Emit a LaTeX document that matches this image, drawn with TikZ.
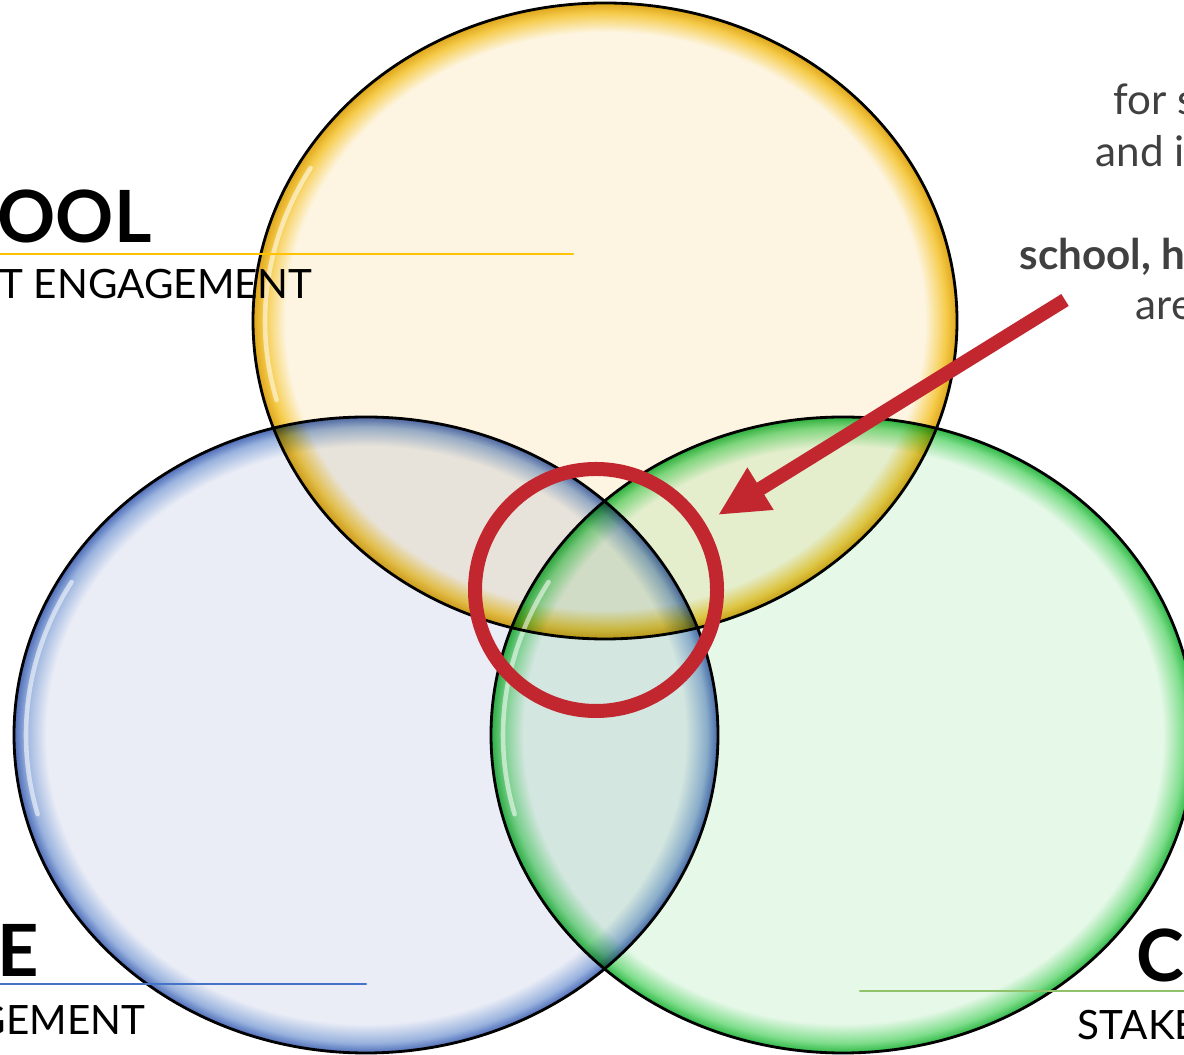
\documentclass[tikz,border=0pt]{standalone}
\usepackage{xcolor}
\usepackage{fontspec}
\setmainfont{Lato}
\usepackage{tikz}
\usetikzlibrary{arrows.meta}
\definecolor{fffdeq}{rgb}{0.992,0.961,0.886}
\definecolor{ffczqq}{rgb}{0.965,0.800,0.300}
\definecolor{ddaaqq}{rgb}{0.870,0.650,0.100}
\definecolor{eeeeff}{rgb}{0.918,0.929,0.965}
\definecolor{zzbbdd}{rgb}{0.600,0.700,0.870}
\definecolor{uuttbb}{rgb}{0.300,0.420,0.720}
\definecolor{eeffee}{rgb}{0.902,0.973,0.910}
\definecolor{ttddtt}{rgb}{0.500,0.870,0.550}
\definecolor{qqbbtt}{rgb}{0.180,0.720,0.270}
\definecolor{ccqqtt}{rgb}{0.760,0.150,0.180}
\definecolor{ggqqqq}{rgb}{0.250,0.250,0.250}
\definecolor{ffcqqq}{rgb}{1.000,0.760,0.000}
\definecolor{qqttcc}{rgb}{0.270,0.450,0.780}
\definecolor{zzccuu}{rgb}{0.560,0.760,0.420}
\pgfdeclareradialshading{yellowglass}{\pgfpoint{0bp}{0bp}}{color(0bp)=(fffdeq); color(22.7bp)=(fffdeq); color(24.2bp)=(ffczqq); color(25bp)=(ddaaqq); color(50bp)=(ddaaqq)}
\pgfdeclareradialshading{blueglass}{\pgfpoint{0bp}{0bp}}{color(0bp)=(eeeeff); color(22.7bp)=(eeeeff); color(24.2bp)=(zzbbdd); color(25bp)=(uuttbb); color(50bp)=(uuttbb)}
\pgfdeclareradialshading{greenglass}{\pgfpoint{0bp}{0bp}}{color(0bp)=(eeffee); color(22.7bp)=(eeffee); color(24.2bp)=(ttddtt); color(25bp)=(qqbbtt); color(50bp)=(qqbbtt)}
\tikzstyle{every node}=[inner sep=0pt]
\tikzstyle{head}=[font=\fontsize{20.5}{24}\selectfont\bfseries, anchor=base west]
\tikzstyle{sub}=[font=\fontsize{11.5}{14}\selectfont, anchor=base west]
\tikzstyle{note}=[font=\fontsize{12}{15}\selectfont, color=ggqqqq, anchor=base west]
\tikzstyle{glint}=[white, line width=1.3pt, opacity=0.55]

\begin{document}
\begin{tikzpicture}[line cap=round,line join=round,x=1.0cm,y=1.0cm]
                \useasboundingbox (0,0) rectangle (11.84,10.54);
                \clip (0,0) rectangle (11.84,10.54);
                \shade [shading=yellowglass,blend mode=multiply] (6.05,7.33) ellipse (3.52cm and 3.18cm);
                \shade [shading=blueglass,blend mode=multiply] (3.66,3.19) ellipse (3.52cm and 3.18cm);
                \shade [shading=greenglass,blend mode=multiply] (8.43,3.19) ellipse (3.52cm and 3.18cm);
                \draw [glint] (6.05,7.33) ++(150:3.40cm and 3.06cm) arc [start angle=150, end angle=195, x radius=3.40cm, y radius=3.06cm];
                \draw [glint] (3.66,3.19) ++(150:3.40cm and 3.06cm) arc [start angle=150, end angle=195, x radius=3.40cm, y radius=3.06cm];
                \draw [glint] (8.43,3.19) ++(150:3.40cm and 3.06cm) arc [start angle=150, end angle=195, x radius=3.40cm, y radius=3.06cm];
                \draw [line width=0.8pt] (6.05,7.33) ellipse (3.52cm and 3.18cm);
                \draw [line width=0.8pt] (3.66,3.19) ellipse (3.52cm and 3.18cm);
                \draw [line width=0.8pt] (8.43,3.19) ellipse (3.52cm and 3.18cm);
                \draw [line width=0.14cm,color=ccqqtt] (5.96,4.64) circle (1.21cm);
                \coordinate (tail) at (10.65,7.54);
                \coordinate (tip) at (7.18,5.39);
                \draw [-{Triangle[length=5mm,width=4.6mm]},line width=0.14cm,line cap=butt,color=ccqqtt] (tail) -- (tip);
                \draw [line width=0.6pt,color=ffcqqq] (0,8.00) -- (5.73,8.00);
                \draw [line width=0.6pt,color=qqttcc] (0,0.70) -- (3.66,0.70);
                \draw [line width=0.6pt,color=zzccuu] (8.60,0.63) -- (11.84,0.63);
                \node [head] (school) at (-0.03,8.11) {OOL};
                \node [sub] (schoolsub) at (-0.01,7.55) {T ENGAGEMENT};
                \node [head] (home) at (-0.03,0.77) {E};
                \node [sub] (homesub) at (-0.24,0.19) {GEMENT};
                \node [head] (community) at (11.36,0.72) {C};
                \node [sub] (communitysub) at (10.77,0.14) {STAKE};
                \node [note] (lineA) at (11.13,9.39) {for s};
                \node [note] (lineB) at (10.95,8.87) {and in};
                \node [note,font=\fontsize{12}{15}\selectfont\bfseries] (lineC) at (10.19,7.84) {school, h};
                \node [note] (lineD) at (11.35,7.34) {are};
            \end{tikzpicture}
\end{document}
